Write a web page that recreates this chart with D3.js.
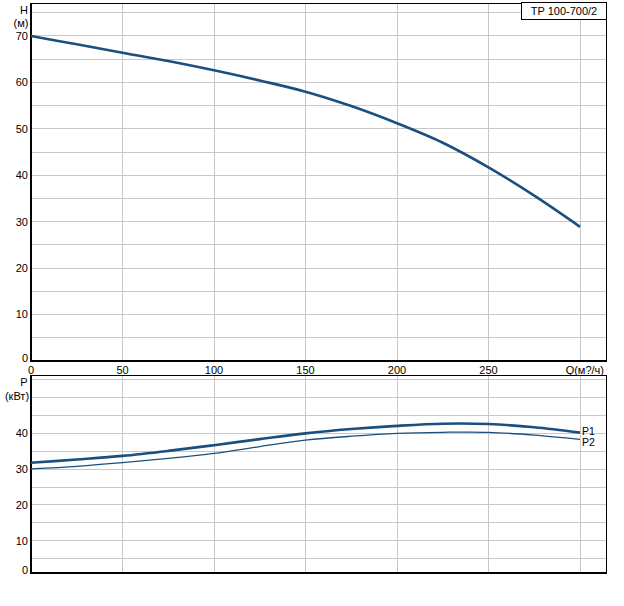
<!DOCTYPE html>
<html><head><meta charset="utf-8">
<script src="https://cdn.jsdelivr.net/npm/d3@7"></script>
<style>body{margin:0;background:#fff}svg{display:block}text{font-family:"Liberation Sans",Arial,sans-serif;font-size:11px;fill:#000}</style>
</head><body><svg id="c" width="624" height="606"></svg>
<script>
const qValues = [0,25,50,75,100,125,150,175,200,225,250,275,300];
const headValues = [70,68.2,66.4,64.6,62.6,60.4,58.0,54.9,51.2,47.0,41.7,35.6,28.9];
const p1Values = [31.8,32.7,33.7,35.1,36.7,38.4,40.0,41.2,42.1,42.7,42.6,41.7,40.2];
const p2Values = [30.1,30.8,31.8,33.0,34.4,36.3,38.1,39.2,40.0,40.3,40.3,39.5,38.3];
const xTicks = [0,50,100,150,200,250];
const hTicks = [0,10,20,30,40,50,60,70];
const pTicks = [0,10,20,30,40];
const title = "TP 100-700/2";

const svg = d3.select("#c");
const L = 31, R = 606;
const x = d3.scaleLinear().domain([0,314.2]).range([L,R]);
const yH = d3.scaleLinear().domain([0,77.1]).range([361,3]);
const yP = d3.scaleLinear().domain([1.0,56.3]).range([573,375]);
const col = "#1a4f80";

function panel(y, top, bottom, gridY, ticks){
  const g = svg.append("g");
  g.selectAll(".gy").data(gridY).join("line")
    .attr("x1",L).attr("x2",R).attr("y1",d=>y(d)).attr("y2",d=>y(d))
    .attr("stroke","#c8c8c8").attr("stroke-width",1).attr("shape-rendering","crispEdges");
  g.selectAll(".gx").data(d3.range(50,314,50)).join("line")
    .attr("x1",d=>x(d)).attr("x2",d=>x(d)).attr("y1",top).attr("y2",bottom)
    .attr("stroke","#c8c8c8").attr("stroke-width",1).attr("shape-rendering","crispEdges");
  g.append("rect").attr("x",L).attr("y",top).attr("width",R-L).attr("height",bottom-top)
    .attr("fill","none").attr("stroke","#000").attr("stroke-width",1).attr("shape-rendering","crispEdges");
  g.append("line").attr("x1",L).attr("x2",L).attr("y1",top).attr("y2",bottom+1).attr("stroke","#000").attr("stroke-width",2);
  g.append("line").attr("x1",L).attr("x2",R+1).attr("y1",bottom).attr("y2",bottom).attr("stroke","#000").attr("stroke-width",2);
  g.selectAll(".tl").data(ticks).join("text")
    .attr("x",L-3).attr("y",d=>Math.min(y(d),bottom-3)).attr("dy","0.35em").attr("text-anchor","end").text(d=>d);
  return g;
}

// top panel
panel(yH, 3, 361, d3.range(5,77,5), hTicks);
svg.append("text").attr("x",24).attr("y",10).attr("dy","0.35em").attr("text-anchor","middle").text("H");
svg.append("text").attr("x",21).attr("y",23).attr("dy","0.35em").attr("text-anchor","middle").text("(м)");
svg.selectAll(".xt").data(xTicks).join("text")
  .attr("x",d=>x(d)).attr("y",370).attr("dy","0.35em").attr("text-anchor","middle").text(d=>d);
svg.append("text").attr("x",604).attr("y",370).attr("dy","0.35em").attr("text-anchor","end").text("Q(м?/ч)");
svg.append("rect").attr("x",521.5).attr("y",2.5).attr("width",85).attr("height",17)
  .attr("fill","#fff").attr("stroke","#000").attr("stroke-width",1);
svg.append("text").attr("x",564).attr("y",11.5).attr("dy","0.35em").attr("text-anchor","middle").text(title);

const line = (y, vals) => d3.line().x((d,i)=>x(qValues[i])).y(d=>y(d)).curve(d3.curveCatmullRom.alpha(0.5))(vals);
svg.append("path").attr("d",line(yH,headValues)).attr("fill","none").attr("stroke",col).attr("stroke-width",2.6);

// bottom panel
panel(yP, 375, 573, d3.range(5,56,5), pTicks);
svg.append("text").attr("x",24).attr("y",382).attr("dy","0.35em").attr("text-anchor","middle").text("P");
svg.append("text").attr("x",17).attr("y",396).attr("dy","0.35em").attr("text-anchor","middle").text("(кВт)");
svg.append("path").attr("d",line(yP,p2Values)).attr("fill","none").attr("stroke",col).attr("stroke-width",1.3);
svg.append("path").attr("d",line(yP,p1Values)).attr("fill","none").attr("stroke",col).attr("stroke-width",2.6);
svg.append("text").attr("x",x(300)+2).attr("y",yP(p1Values[12])-1.5).attr("dy","0.35em").style("font-size","10.5px").text("P1");
svg.append("text").attr("x",x(300)+2).attr("y",yP(p2Values[12])+3).attr("dy","0.35em").style("font-size","10.5px").text("P2");
</script></body></html>
